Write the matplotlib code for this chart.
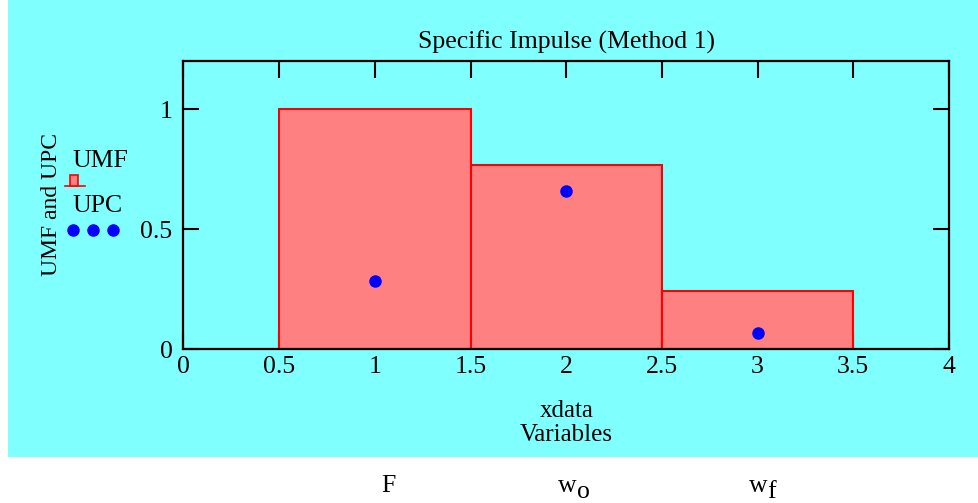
import matplotlib
matplotlib.use("Agg")
import matplotlib.pyplot as plt
from matplotlib.patches import Rectangle
from matplotlib.lines import Line2D

# Data
bar_left = [0.5, 1.5, 2.5]
bar_width = [1.0, 1.0, 1.0]
umf = [1.0, 0.767, 0.242]
upc_x = [1, 2, 3]
upc = [0.283, 0.658, 0.067]
var_pos = [1, 2, 3]
var_main = ["F", "w", "w"]
var_sub = ["", "o", "f"]
xticks = [0, 0.5, 1, 1.5, 2, 2.5, 3, 3.5, 4]
xticklabels = ["0", "0.5", "1", "1.5", "2", "2.5", "3", "3.5", "4"]
yticks = [0, 0.5, 1]
yticklabels = ["0", "0.5", "1"]

plt.rcParams['font.family'] = ['Liberation Serif', 'DejaVu Serif']

FS = 18.5
W, H = 979, 503
fig = plt.figure(figsize=(W / 100, H / 100), dpi=100)
fig.patch.set_facecolor('white')
cyan = '#80FFFF'
fig.patches.append(Rectangle((8 / W, (H - 457) / H), 1 - 8 / W, 457 / H,
                             transform=fig.transFigure, facecolor=cyan,
                             edgecolor='none', zorder=-5))

x0, x1 = 183.5, 949
y0, y1 = 61, 349
ax = fig.add_axes([x0 / W, (H - y1) / H, (x1 - x0) / W, (y1 - y0) / H])
ax.set_zorder(1)
ax.set_facecolor(cyan)
ax.set_xlim(0, 4)
ax.set_ylim(0, 1.2)
ax.set_axisbelow(True)

ax.bar(bar_left, umf, width=bar_width, align='edge', color='#FF8080',
       edgecolor='red', linewidth=1.5, zorder=2)
ax.plot(upc_x, upc, 'o', color='blue', markersize=8, zorder=3)

for s in ax.spines.values():
    s.set_linewidth(1.6)
    s.set_zorder(4)

ax.set_xticks(xticks)
ax.set_xticklabels(xticklabels)
ax.set_yticks(yticks)
ax.set_yticklabels(yticklabels)
ax.tick_params(axis='x', direction='in', length=12, width=1.5, top=True,
               labelsize=FS, pad=5)
ax.tick_params(axis='y', direction='in', length=11.5, width=1.5, right=True,
               labelsize=FS, pad=8)

ax.set_title("Specific Impulse (Method 1)", fontsize=FS, pad=9)
ax.set_xlabel("xdata\nVariables", fontsize=18, labelpad=16, linespacing=1.1)
ax.set_ylabel("UMF and UPC", fontsize=17, labelpad=0)
ax.yaxis.set_label_coords(-121 / (x1 - x0), 0.50)

# variable names below
anchor_off = [14, 10.6, 10]
for p, m, sub, o in zip(var_pos, var_main, var_sub, anchor_off):
    if sub:
        ax.annotate(m, xy=(p, 0), xycoords=('data', 'axes fraction'),
                    xytext=(o, -(492 - y1)), textcoords='offset pixels',
                    ha='right', va='baseline', fontsize=FS, annotation_clip=False)
        ax.annotate(sub, xy=(p, 0), xycoords=('data', 'axes fraction'),
                    xytext=(o, -(498 - y1)), textcoords='offset pixels',
                    ha='left', va='baseline', fontsize=FS, annotation_clip=False)
    else:
        ax.annotate(m, xy=(p, 0), xycoords=('data', 'axes fraction'),
                    xytext=(o, -(492 - y1)), textcoords='offset pixels',
                    ha='center', va='baseline', fontsize=FS, annotation_clip=False)

# legend (manual)
fig.text(72 / W, 1 - 161 / H, "UMF", fontsize=FS, va='center', ha='left')
fig.patches.append(Rectangle((70 / W, 1 - 186 / H), 8 / W, 11 / H,
                             transform=fig.transFigure, facecolor='#FF8080',
                             edgecolor='red', linewidth=1.2, zorder=3))
fig.lines.append(Line2D([65 / W, 85 / W], [1 - 186 / H, 1 - 186 / H],
                        transform=fig.transFigure, color='red', linewidth=1.2))
fig.text(72 / W, 1 - 206 / H, "UPC", fontsize=FS, va='center', ha='left')
fig.lines.append(Line2D([73 / W, 93 / W, 113 / W], [1 - 230 / H] * 3,
                        transform=fig.transFigure, color='blue', marker='o',
                        linestyle='none', markersize=8))

fig.savefig("out.png", dpi=100, facecolor='white')
